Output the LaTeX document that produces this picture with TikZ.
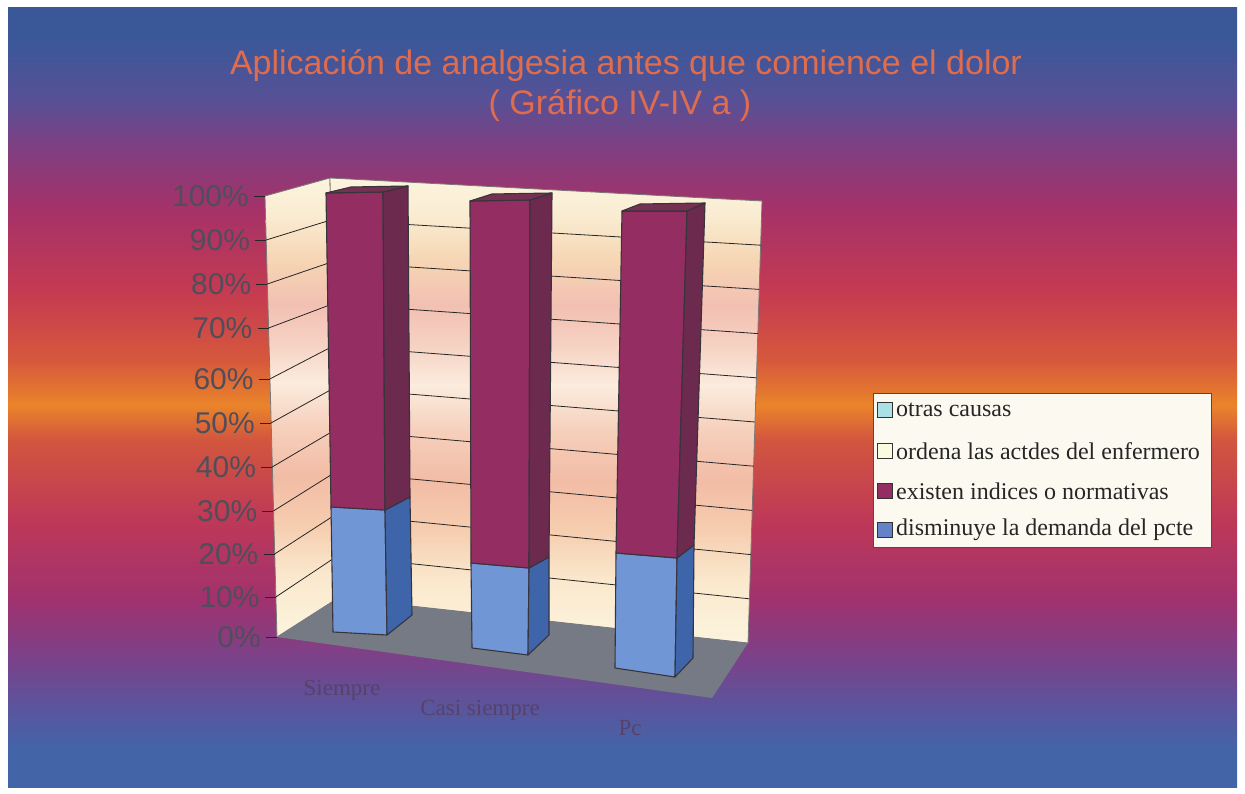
\documentclass[tikz,border=0pt]{standalone}
\usepackage{fontspec}
\setmainfont{Liberation Serif}
\newfontfamily\arialfont{Liberation Sans}
\usetikzlibrary{positioning}

\definecolor{bgA}{RGB}{58,88,152}
\definecolor{bgB}{RGB}{88,80,150}
\definecolor{bgC}{RGB}{128,62,128}
\definecolor{bgD}{RGB}{166,50,104}
\definecolor{bgE}{RGB}{196,58,82}
\definecolor{bgF}{RGB}{214,88,60}
\definecolor{bgG}{RGB}{234,132,42}
\definecolor{bgH}{RGB}{210,86,62}
\definecolor{bgI}{RGB}{190,56,88}
\definecolor{bgJ}{RGB}{160,50,110}
\definecolor{bgK}{RGB}{122,66,138}
\definecolor{bgL}{RGB}{88,86,158}
\definecolor{bgM}{RGB}{68,100,168}
\definecolor{wA}{RGB}{252,244,222}
\definecolor{wB}{RGB}{250,236,210}
\definecolor{wC}{RGB}{246,214,180}
\definecolor{wD}{RGB}{242,192,178}
\definecolor{wE}{RGB}{246,210,195}
\definecolor{wF}{RGB}{251,236,222}
\definecolor{wG}{RGB}{246,208,188}
\definecolor{wH}{RGB}{242,188,165}
\definecolor{wI}{RGB}{246,205,175}
\definecolor{wJ}{RGB}{250,232,205}
\definecolor{titlered}{RGB}{224,108,78}
\definecolor{axisgray}{RGB}{80,78,90}
\definecolor{catgray}{RGB}{86,66,106}
\definecolor{barline}{RGB}{55,52,60}
\definecolor{bluefront}{RGB}{112,150,214}
\definecolor{blueside}{RGB}{62,100,170}
\definecolor{purplefront}{RGB}{148,45,98}
\definecolor{purpleside}{RGB}{108,42,78}
\definecolor{purpletop}{RGB}{118,48,82}
\definecolor{floorgray}{RGB}{118,122,132}
\definecolor{wallline}{RGB}{120,120,120}
\definecolor{legendbg}{RGB}{252,250,240}
\definecolor{cyankey}{RGB}{170,225,230}
\definecolor{creamkey}{RGB}{250,250,222}
\definecolor{bluekey}{RGB}{100,130,200}

\pgfdeclareverticalshading{bgshade}{100bp}{color(0bp)=(bgM); color(25bp)=(bgM);
  color(27.4bp)=(bgM); color(29.9bp)=(bgL); color(33.2bp)=(bgK); color(37bp)=(bgJ);
  color(42.1bp)=(bgI); color(47.3bp)=(bgH); color(49.5bp)=(bgG); color(52.4bp)=(bgF);
  color(56.9bp)=(bgE); color(62bp)=(bgD); color(65.9bp)=(bgC); color(69.1bp)=(bgB);
  color(72.9bp)=(bgA); color(75bp)=(bgA); color(100bp)=(bgA)}
\pgfdeclareverticalshading{wallshade}{100bp}{color(0bp)=(wA); color(25bp)=(wA);
  color(31.8bp)=(wJ); color(37.2bp)=(wI); color(42.5bp)=(wH); color(47.9bp)=(wG);
  color(52.7bp)=(wF); color(57bp)=(wE); color(61.3bp)=(wD); color(66.2bp)=(wC);
  color(71bp)=(wB); color(75bp)=(wA); color(100bp)=(wA)}

\begin{document}
\begin{tikzpicture}[x=1pt, y=-1pt]
	\tikzset{face/.style={draw=barline, line width=1.1pt, line join=round},
		gridline/.style={draw=black!85, line width=0.8pt},
		axislabel/.style={font=\arialfont\fontsize{30}{32}\selectfont, text=axisgray, anchor=east, inner sep=0pt},
		legtext/.style={font=\fontsize{24}{26}\selectfont, text=black!85, inner sep=0pt},
		legkey/.style={draw=black!80, line width=0.8pt, minimum size=15pt, inner sep=0pt},
		catlabel/.style={font=\fontsize{23}{26}\selectfont, text=catgray, inner sep=0pt},
		titletext/.style={font=\arialfont\fontsize{34}{38}\selectfont, text=titlered, inner sep=0pt}}
	% background
	\fill[white] (0,0) rectangle (1245,794);
	\shade[shading=bgshade] (8,8) rectangle (1237,787);
	% walls and floor
	\coordinate (fl0) at (277,637);  \coordinate (fl100) at (265,196);
	\coordinate (bl0) at (338,598);  \coordinate (bl100) at (330,178);
	\coordinate (br0) at (748,643);  \coordinate (br100) at (762,201);
	\coordinate (fr0) at (712,698);
	\shade[shading=wallshade, draw=wallline, line width=0.8pt] (fl0) -- (fl100) -- (bl100) -- (bl0) -- cycle;
	\shade[shading=wallshade, draw=wallline, line width=0.8pt] (bl0) -- (bl100) -- (br100) -- (br0) -- cycle;
	\fill[floorgray] (fl0) -- (bl0) -- (br0) -- (fr0) -- cycle;
	% grid, ticks, axis labels
	\foreach \p/\fy in {10/597,20/554,30/511,40/467,50/423,60/379,70/328,80/284,90/240}
		\draw[gridline] ({277-0.12*\p},\fy) -- ({338-0.08*\p},{598-4.2*\p}) -- ({748+0.14*\p},{643-4.42*\p});
	\foreach \p/\fy in {0/637,10/597,20/554,30/511,40/467,50/423,60/379,70/328,80/284,90/240,100/196} {
		\draw[gridline] ({266-0.12*\p},\fy) -- ({277-0.12*\p},\fy);
		\node[axislabel] (y\p) at ({261-0.12*\p},\fy) {\p\%};
	}
	% columns
	\coordinate (c1-tl) at (326,193); \coordinate (c1-tr) at (383,192); \coordinate (c1-tb) at (351,187); \coordinate (c1-st) at (408,186);
	\coordinate (c1-ml) at (331,507); \coordinate (c1-mr) at (385,510); \coordinate (c1-sm) at (410,497);
	\coordinate (c1-bl) at (333,632); \coordinate (c1-br) at (387,635); \coordinate (c1-sb) at (412,615);
	\coordinate (c2-tl) at (470,201); \coordinate (c2-tr) at (530,200); \coordinate (c2-tb) at (492,194); \coordinate (c2-st) at (552,193);
	\coordinate (c2-ml) at (471,563); \coordinate (c2-mr) at (529,568); \coordinate (c2-sm) at (549,557);
	\coordinate (c2-bl) at (472,648); \coordinate (c2-br) at (528,655); \coordinate (c2-sb) at (549,635);
	\coordinate (c3-tl) at (622,211); \coordinate (c3-tr) at (687,211); \coordinate (c3-tb) at (640,204); \coordinate (c3-st) at (705,203);
	\coordinate (c3-ml) at (616,553); \coordinate (c3-mr) at (677,558); \coordinate (c3-sm) at (694,545);
	\coordinate (c3-bl) at (615,668); \coordinate (c3-br) at (675,677); \coordinate (c3-sb) at (693,658);
	\foreach \b in {1,2,3} {
		\filldraw[face, fill=bluefront] (c\b-ml) -- (c\b-mr) -- (c\b-br) -- (c\b-bl) -- cycle;
		\filldraw[face, fill=blueside] (c\b-mr) -- (c\b-sm) -- (c\b-sb) -- (c\b-br) -- cycle;
		\filldraw[face, fill=purplefront] (c\b-tl) -- (c\b-tr) -- (c\b-mr) -- (c\b-ml) -- cycle;
		\filldraw[face, fill=purpleside] (c\b-tr) -- (c\b-st) -- (c\b-sm) -- (c\b-mr) -- cycle;
		\filldraw[face, fill=purpletop] (c\b-tl) -- (c\b-tb) -- (c\b-st) -- (c\b-tr) -- cycle;
	}
	% category labels
	\node[catlabel] (cat1) at (342,690) {Siempre};
	\node[catlabel] (cat2) at (480,710) {Casi siempre};
	\node[catlabel] (cat3) at (630,728) {Pc};
	% legend
	\node[draw=black!70, line width=0.8pt, fill=legendbg, minimum width=338pt, minimum height=154pt,
		anchor=north west, inner sep=0pt] (legend) at (873,393) {};
	\node[legkey, fill=cyankey] (k1) at (885,410) {};
	\node[legkey, fill=creamkey] (k2) at (885,451) {};
	\node[legkey, fill=purplefront] (k3) at (885,491) {};
	\node[legkey, fill=bluekey] (k4) at (885,530) {};
	\node[legtext, right=3pt of k1] (t1) {otras causas};
	\node[legtext, right=3pt of k2] (t2) {ordena las actdes del enfermero};
	\node[legtext, right=3pt of k3] (t3) {existen indices o normativas};
	\node[legtext, right=3pt of k4] (t4) {disminuye la demanda del pcte};
	% title
	\node[titletext] (title) at (626,66) {Aplicación de analgesia antes que comience el dolor};
	\node[titletext] (subtitle) at (620,106) {( Gráfico IV-IV a )};
\end{tikzpicture}
\end{document}
